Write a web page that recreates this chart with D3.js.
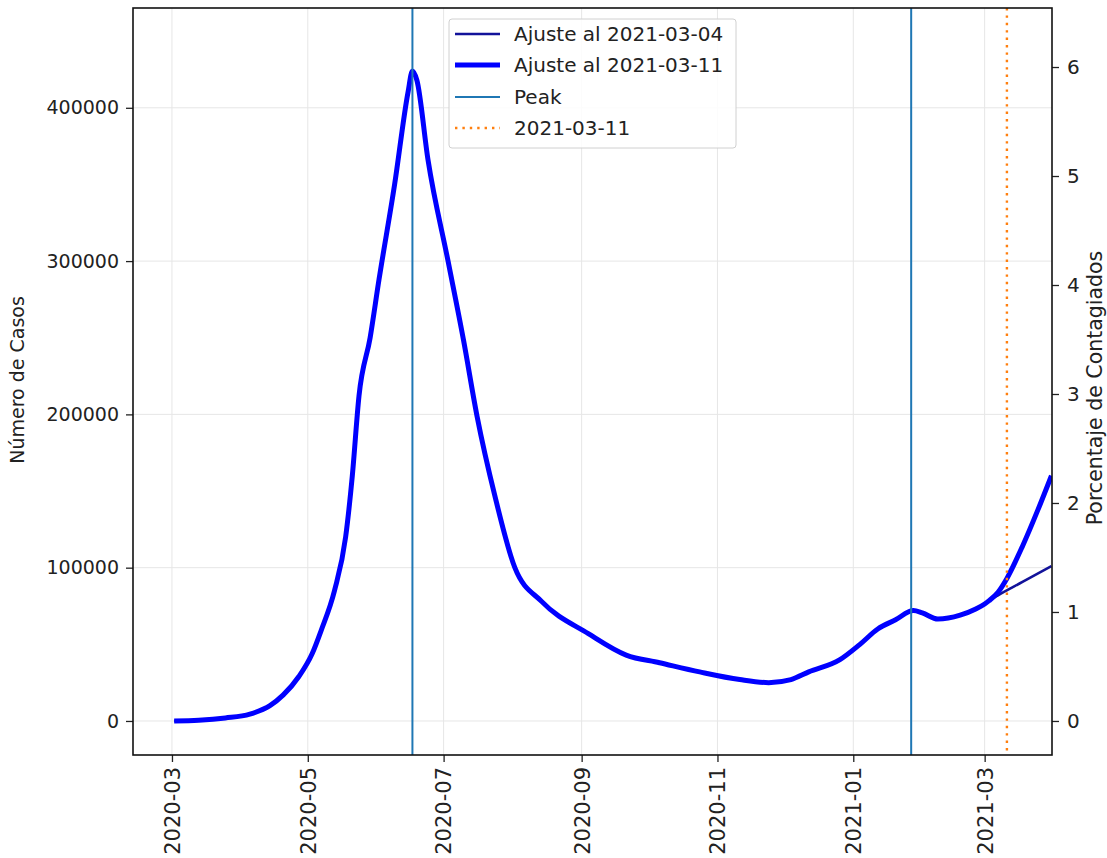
<!DOCTYPE html>
<html><head><meta charset="utf-8">
<script src="https://cdn.jsdelivr.net/npm/d3@7"></script>
<style>body{margin:0;background:#fff}svg{display:block}text{font-family:"DejaVu Sans",sans-serif}</style>
</head><body><svg id="c" width="1107" height="858"></svg>
<script>
// ---- data ----
const commonDates = ["2020-03-02","2020-03-13","2020-03-25","2020-04-05","2020-04-14","2020-04-20","2020-04-27","2020-05-03","2020-05-07","2020-05-13","2020-05-18","2020-05-21","2020-05-24","2020-05-29","2020-06-02","2020-06-09","2020-06-15","2020-06-17","2020-06-19","2020-06-24","2020-07-03","2020-07-10","2020-07-16","2020-07-24","2020-08-02","2020-08-14","2020-09-04","2020-09-21","2020-10-06","2020-10-24","2020-11-11","2020-11-24","2020-12-04","2020-12-12","2020-12-26","2021-01-04","2021-01-12","2021-01-20","2021-01-28","2021-02-01","2021-02-08","2021-02-18","2021-02-25","2021-03-01","2021-03-03"];
const commonCases = [0,500,2000,4500,10000,17000,29000,44000,59000,85000,120000,160000,212000,250000,288000,350000,410000,424000,418000,366000,300000,248000,199000,147000,100000,78000,57000,43000,38000,32000,27000,25000,27000,32000,40000,50000,60000,66000,72000,70500,66500,69000,73000,76300,78500];
const tail0304Dates = ["2021-03-07","2021-03-18","2021-03-31"];
const tail0304Cases = [82000,90700,101000];
const tail0311Dates = ["2021-03-07","2021-03-11","2021-03-18","2021-03-25","2021-03-31"];
const tail0311Cases = [84000,93000,114000,138000,160000];
const peakDates = ["2020-06-17","2021-01-27"];
const cutoffDate = "2021-03-11";
const xTickDates = ["2020-03-01","2020-05-01","2020-07-01","2020-09-01","2020-11-01","2021-01-01","2021-03-01"];
const yTickValues = [0,100000,200000,300000,400000];
const pctTickValues = [0,1,2,3,4,5,6];
const population = 7110000;
const legendLabels = ["Ajuste al 2021-03-04","Ajuste al 2021-03-11","Peak","2021-03-11"];

// ---- layout ----
const P = {l:133, r:1052, t:8, b:755};
const parse = d3.utcParse("%Y-%m-%d");
const x = d3.scaleUtc().domain([new Date(Date.UTC(2020,1,12,12)), new Date(Date.UTC(2021,2,31,6))]).range([P.l,P.r]);
const y = d3.scaleLinear().domain([-22200, 465100]).range([P.b,P.t]);
const y2 = d3.scaleLinear().domain(y.domain().map(v=>v/population*100)).range([P.b,P.t]);

const svg = d3.select("#c");
svg.append("defs").append("clipPath").attr("id","clip").append("rect")
  .attr("x",P.l).attr("y",P.t).attr("width",P.r-P.l).attr("height",P.b-P.t);

// grid
const grid = svg.append("g").attr("stroke","#e6e6e6").attr("stroke-width",1);
xTickDates.forEach(d=>grid.append("line").attr("x1",x(parse(d))).attr("x2",x(parse(d))).attr("y1",P.t).attr("y2",P.b));
yTickValues.forEach(v=>grid.append("line").attr("x1",P.l).attr("x2",P.r).attr("y1",y(v)).attr("y2",y(v)));

const series0304 = commonDates.map((d,i)=>[parse(d),commonCases[i]]).concat(tail0304Dates.map((d,i)=>[parse(d),tail0304Cases[i]]));
const series0311 = commonDates.map((d,i)=>[parse(d),commonCases[i]]).concat(tail0311Dates.map((d,i)=>[parse(d),tail0311Cases[i]]));
const line = d3.line().x(d=>x(d[0])).y(d=>y(d[1])).curve(d3.curveMonotoneX);
const plot = svg.append("g").attr("clip-path","url(#clip)");
plot.append("path").datum(series0304).attr("d",line).attr("fill","none").attr("stroke","#12129a").attr("stroke-width",2.6);
plot.append("path").datum(series0311).attr("d",line).attr("fill","none").attr("stroke","#0000ff").attr("stroke-width",5);
peakDates.forEach(d=>plot.append("line").attr("x1",x(parse(d))).attr("x2",x(parse(d))).attr("y1",P.t).attr("y2",P.b).attr("stroke","#1f77b4").attr("stroke-width",2));
plot.append("line").attr("x1",x(parse(cutoffDate))).attr("x2",x(parse(cutoffDate))).attr("y1",P.t).attr("y2",P.b)
  .attr("stroke","#ff7f0e").attr("stroke-width",2.4).attr("stroke-dasharray","2.4,5");

// axes
const ax = svg.append("g").attr("transform",`translate(0,${P.b})`)
  .call(d3.axisBottom(x).tickValues(xTickDates.map(parse)).tickFormat(d3.utcFormat("%Y-%m")).tickSize(7).tickPadding(6));
ax.selectAll("text").attr("transform","rotate(-90)").attr("text-anchor","end").attr("dy","0.35em")
  .attr("x",-12).attr("y",0).style("font-size","21px").attr("fill","#222");
const ay = svg.append("g").attr("transform",`translate(${P.l},0)`)
  .call(d3.axisLeft(y).tickValues(yTickValues).tickFormat(d3.format("d")).tickSize(7).tickPadding(7));
ay.selectAll("text").style("font-size","19px").attr("fill","#222");
const ay2 = svg.append("g").attr("transform",`translate(${P.r},0)`)
  .call(d3.axisRight(y2).tickValues(pctTickValues).tickFormat(d3.format("d")).tickSize(7).tickPadding(8));
ay2.selectAll("text").style("font-size","20px").attr("fill","#222");
[ax,ay,ay2].forEach(g=>{g.select(".domain").remove();g.selectAll(".tick line").attr("stroke","#222").attr("stroke-width",1.3);});

svg.append("rect").attr("x",P.l).attr("y",P.t).attr("width",P.r-P.l).attr("height",P.b-P.t)
  .attr("fill","none").attr("stroke","#111").attr("stroke-width",1.6);

svg.append("text").attr("transform",`translate(24,380) rotate(-90)`).attr("text-anchor","middle")
  .style("font-size","19px").attr("fill","#222").text("Número de Casos");
svg.append("text").attr("transform",`translate(1095,388) rotate(-90)`).attr("text-anchor","middle")
  .attr("dy","0.35em").style("font-size","20.5px").attr("fill","#222").text("Porcentaje de Contagiados");

// legend
const lg = svg.append("g");
lg.append("rect").attr("x",449).attr("y",19).attr("width",287).attr("height",129).attr("rx",3)
  .attr("fill","#fff").attr("fill-opacity",0.85).attr("stroke","#d0d0d0");
const lstyles = [{c:"#12129a",w:2.6,d:null},{c:"#0000ff",w:5,d:null},{c:"#1f77b4",w:2,d:null},{c:"#ff7f0e",w:2.4,d:"2.4,5"}];
const rowsY = [34,65,97,128];
legendLabels.forEach((t,i)=>{
  const l = lg.append("line").attr("x1",455).attr("x2",500).attr("y1",rowsY[i]).attr("y2",rowsY[i])
    .attr("stroke",lstyles[i].c).attr("stroke-width",lstyles[i].w);
  if(lstyles[i].d) l.attr("stroke-dasharray",lstyles[i].d);
  lg.append("text").attr("x",514).attr("y",rowsY[i]).attr("dy","0.35em").style("font-size","20px").attr("fill","#222").text(t);
});
</script></body></html>
